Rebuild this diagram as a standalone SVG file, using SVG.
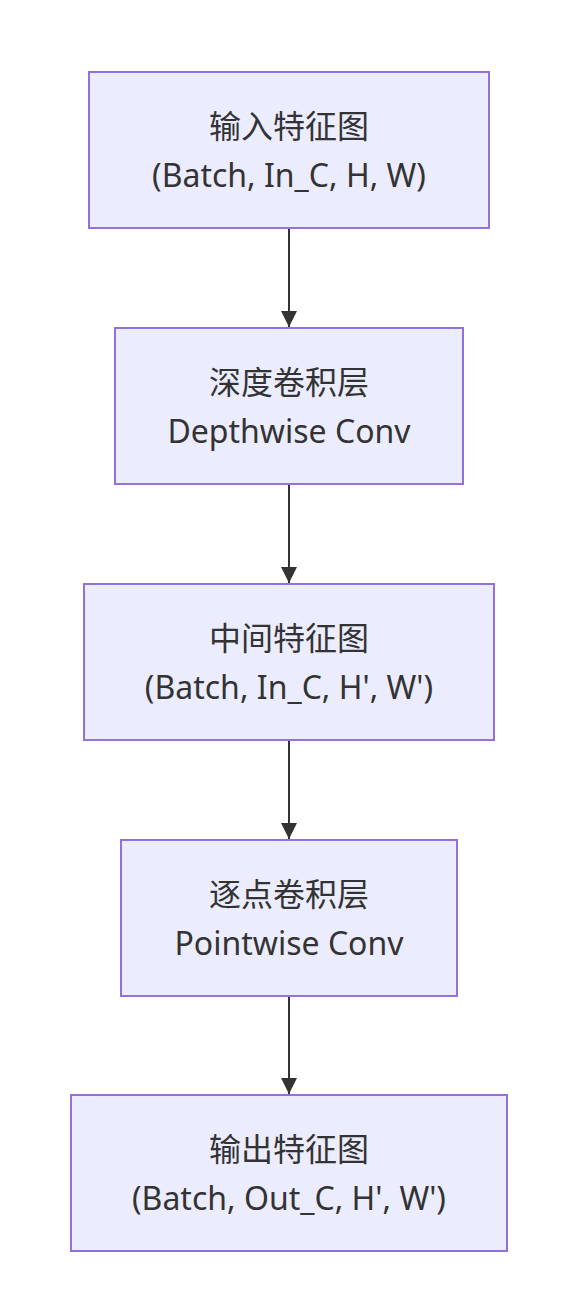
<svg xmlns="http://www.w3.org/2000/svg" width="562" height="1308" viewBox="0 0 562 1308">
<style>
.node rect{fill:#ECECFF;stroke:#9370DB;stroke-width:2}
.node text{font-family:"Noto Sans","Noto Sans CJK SC",sans-serif;font-size:32px;fill:#333;text-anchor:middle}
.edge{stroke:#333;stroke-width:2;fill:none}
</style>
<defs>
<marker id="arr" viewBox="0 0 10 10" refX="10" refY="5" markerWidth="16" markerHeight="16" markerUnits="userSpaceOnUse" orient="auto">
<path d="M0,0 L10,5 L0,10 z" fill="#333"/>
</marker>
</defs>
<rect width="562" height="1308" fill="#fff"/>
<g id="connectors">
<path class="edge" d="M289,229 L289,327" marker-end="url(#arr)"/>
<path class="edge" d="M289,485 L289,583" marker-end="url(#arr)"/>
<path class="edge" d="M289,741 L289,839" marker-end="url(#arr)"/>
<path class="edge" d="M289,997 L289,1094" marker-end="url(#arr)"/>
</g>
<g id="n1" class="node"><rect x="89" y="72" width="400" height="156"/><text x="289" y="138">输入特征图</text><text x="289" y="187">(Batch, In_C, H, W)</text></g>
<g id="n2" class="node"><rect x="115" y="328" width="348" height="156"/><text x="289" y="394">深度卷积层</text><text x="289" y="443">Depthwise Conv</text></g>
<g id="n3" class="node"><rect x="84" y="584" width="410" height="156"/><text x="289" y="650">中间特征图</text><text x="289" y="699">(Batch, In_C, H', W')</text></g>
<g id="n4" class="node"><rect x="121" y="840" width="336" height="156"/><text x="289" y="906">逐点卷积层</text><text x="289" y="955">Pointwise Conv</text></g>
<g id="n5" class="node"><rect x="71" y="1095" width="436" height="156"/><text x="289" y="1161">输出特征图</text><text x="289" y="1210">(Batch, Out_C, H', W')</text></g>
</svg>
